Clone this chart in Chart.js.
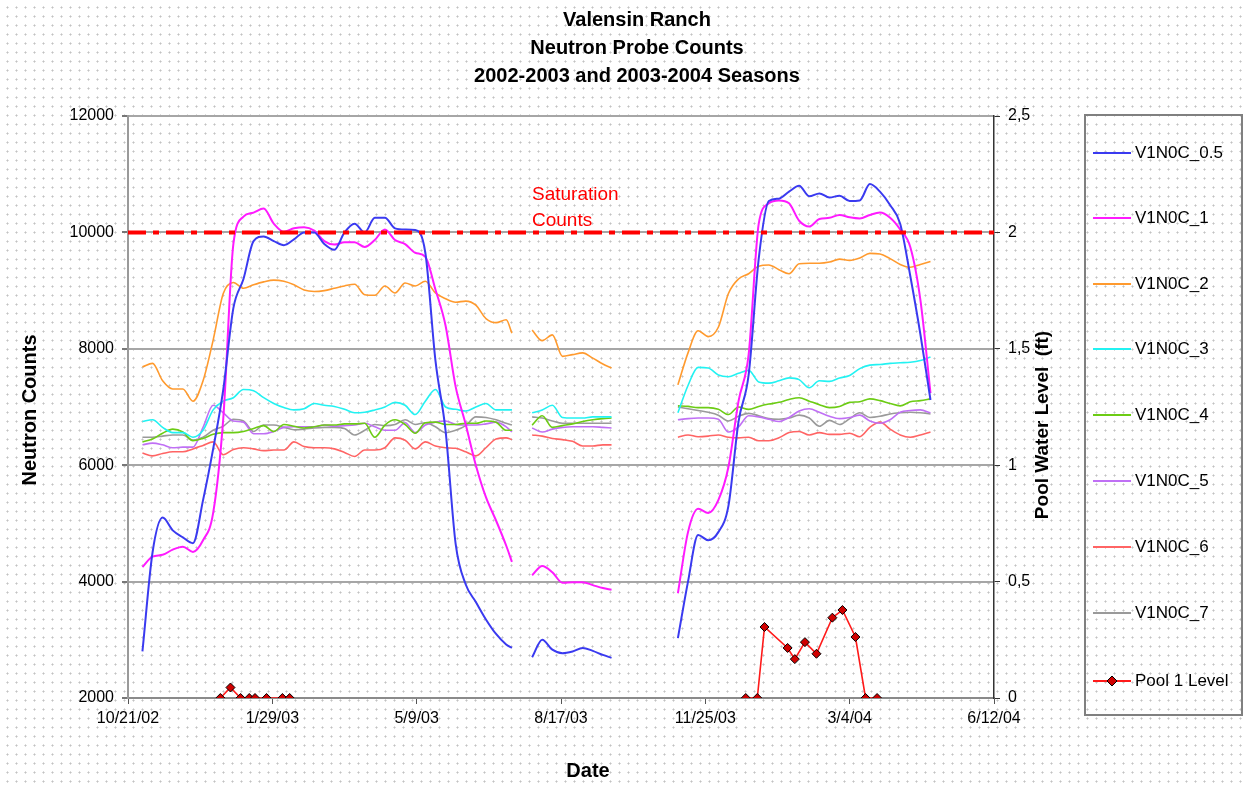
<!DOCTYPE html>
<html><head><meta charset="utf-8">
<script src="https://cdn.jsdelivr.net/npm/chart.js@4.4.0/dist/chart.umd.min.js"></script>
<style>
html,body{margin:0;padding:0;background:#fff;}
body{width:1248px;height:785px;overflow:hidden;background-image:radial-gradient(circle,#c2c2c2 0.8px,transparent 1.3px);background-size:9px 9px;background-position:3px 3px;}
canvas{display:block;}
</style></head><body>
<canvas id="c" width="1248" height="785"></canvas>
<script>
// ---------- data ----------
const xTickLabels = ['10/21/02','1/29/03','5/9/03','8/17/03','11/25/03','3/4/04','6/12/04'];
// days since 10/21/02 (null entries break the lines between measurement periods)
const days = [10,17,24,31,38,45,52,59,66,73,80,87,94,101,108,115,122,129,136,143,150,157,164,171,178,185,192,199,206,213,220,227,234,241,248,255,262,266,
  273,
  280,287,294,301,308,315,322,329,335,
  358,
  381,388,395,402,409,416,423,430,437,444,451,458,465,472,479,486,493,500,507,514,521,528,535,542,549,556];

const v05 = [2800,4500,5100,4880,4760,4660,5400,6280,7300,8700,9200,9850,9930,9850,9780,9880,10000,10000,9800,9700,10000,10150,10000,10250,10250,10070,10050,10040,9650,7800,6600,4650,3950,3650,3350,3100,2920,2860,
  null,
  2700,3000,2830,2770,2800,2860,2810,2740,2690,
  null,
  3030,4000,4800,4710,4850,5300,6750,7550,9550,10540,10580,10700,10800,10620,10670,10600,10630,10540,10550,10830,10700,10470,10150,9250,8250,7120];

const v1 = [4250,4430,4460,4550,4600,4510,4710,5180,6800,9800,10270,10340,10410,10150,10010,10070,10090,10030,9850,9790,9830,9830,9750,9870,10050,9870,9800,9650,9580,9020,8400,7350,6700,6000,5450,5050,4620,4340,
  null,
  4110,4270,4160,3980,3990,3990,3940,3890,3860,
  null,
  3800,4850,5250,5180,5400,5970,7100,7900,10150,10500,10550,10500,10200,10100,10230,10250,10300,10260,10240,10300,10340,10250,10050,9750,8840,7240];

const v2 = [7690,7750,7450,7310,7310,7100,7450,8150,8950,9140,9040,9100,9150,9180,9160,9100,9010,8985,9000,9040,9080,9110,8930,8920,9080,8960,9130,9080,9160,8960,8860,8800,8820,8750,8520,8450,8500,8270,
  null,
  8320,8140,8240,7870,7900,7930,7840,7740,7670,
  null,
  7380,7930,8310,8210,8370,8950,9200,9290,9420,9440,9360,9290,9460,9470,9470,9490,9540,9520,9560,9640,9630,9550,9450,9400,9450,9500];

const v3 = [6750,6780,6650,6560,6560,6480,6600,6950,7100,7160,7300,7280,7160,7060,6990,6950,6970,7060,7030,7010,6960,6900,6910,6950,7000,7080,7030,6870,7100,7300,7000,6960,6930,7000,7060,6950,6950,6950,
  null,
  6900,6950,7030,6820,6810,6810,6830,6830,6830,
  null,
  6900,7370,7680,7670,7550,7520,7580,7630,7430,7410,7450,7500,7470,7330,7450,7440,7500,7540,7660,7720,7730,7750,7760,7770,7800,7860];

const v4 = [6400,6450,6550,6620,6570,6420,6460,6530,6560,6560,6580,6630,6680,6580,6700,6670,6640,6660,6690,6690,6710,6710,6720,6480,6690,6780,6700,6550,6730,6740,6700,6700,6720,6720,6760,6740,6600,6600,
  null,
  6690,6850,6650,6680,6710,6750,6780,6800,6810,
  null,
  7020,7010,6990,6990,6960,6870,7000,6960,7010,7050,7080,7130,7160,7100,7040,6990,7010,7080,7090,7140,7110,7060,7020,7090,7110,7140];

const v5 = [6350,6380,6350,6300,6310,6310,6650,7030,6900,6760,6740,6540,6540,6580,6650,6660,6660,6660,6690,6670,6680,6690,6720,6660,6600,6600,6730,6560,6690,6740,6760,6700,6690,6690,6710,6740,6660,6570,
  null,
  6640,6570,6620,6650,6660,6660,6660,6650,6640,
  null,
  6780,6800,6810,6810,6790,6570,6660,6850,6830,6790,6750,6820,6930,6970,6910,6840,6800,6820,6860,6760,6720,6780,6910,6940,6950,6900];

const v6 = [6210,6160,6200,6230,6230,6280,6340,6400,6180,6270,6300,6280,6250,6260,6260,6400,6320,6300,6300,6280,6220,6150,6260,6260,6300,6470,6430,6280,6400,6330,6300,6290,6230,6160,6300,6450,6470,6440,
  null,
  6520,6500,6460,6440,6410,6330,6330,6350,6350,
  null,
  6480,6520,6490,6500,6520,6480,6470,6480,6420,6420,6470,6560,6580,6520,6560,6530,6530,6550,6490,6650,6740,6620,6520,6480,6520,6570];

const v7 = [6480,6480,6500,6520,6520,6430,6480,6600,6670,6790,6760,6580,6690,6690,6650,6610,6620,6640,6650,6650,6630,6520,6600,6700,6680,6700,6780,6700,6730,6660,6560,6600,6680,6830,6820,6780,6720,6690,
  null,
  6830,6810,6760,6720,6720,6720,6720,6720,6720,
  null,
  7000,6970,6940,6910,6860,6760,6840,6890,6850,6800,6790,6810,6860,6810,6670,6770,6700,6800,6900,6820,6840,6880,6900,6910,6900,6880];

const poolDays  = [64,71,78,84,88,96,107,112,270,428,436,441,457,462,469,477,488,495,504,511,519];
const poolLevel = [0,0.045,0,0,0,0,0,0,null,0,0,0.305,0.215,0.167,0.24,0.19,0.345,0.378,0.262,0,0];

const satDays = [0,600];
const satCounts = [10000,10000];

const seriesNames  = ['V1N0C_0.5','V1N0C_1','V1N0C_2','V1N0C_3','V1N0C_4','V1N0C_5','V1N0C_6','V1N0C_7'];
const seriesValues = [v05,v1,v2,v3,v4,v5,v6,v7];
const seriesColors = ['#3a3af0','#ff1aff','#ff9a2e','#22f2f2','#6ccc14','#c070f5','#ff6464','#9a9a9a'];
const seriesWidths = [2,2,1.6,1.6,1.6,1.6,1.6,1.6];

// ---------- chart ----------
Chart.defaults.font.family = '"Liberation Sans", Arial, sans-serif';
Chart.defaults.color = '#000';

const pts = (xs, ys) => xs.map((d,i)=>({x:d, y:ys[i]}));

const datasets = [];
datasets.push({label:'Pool 1 Level', data:pts(poolDays,poolLevel), yAxisID:'y1', borderColor:'#ff1a1a', borderWidth:1.6,
  pointStyle:'rectRot', pointRadius:4.5, pointBackgroundColor:'#d00000', pointBorderColor:'#000', pointBorderWidth:1, tension:0, spanGaps:false});
datasets.push({label:'Saturation', data:pts(satDays,satCounts), yAxisID:'y', borderColor:'#ff0000', borderWidth:4,
  borderDash:[18,7,6,7], pointRadius:0, tension:0});
seriesNames.forEach((n,i)=>{
  datasets.push({label:n, data:pts(days,seriesValues[i]), yAxisID:'y', borderColor:seriesColors[i], borderWidth:seriesWidths[i],
    pointRadius:0, cubicInterpolationMode:'monotone', spanGaps:false});
});

const legendItems = seriesNames.map((n,i)=>({text:n, color:seriesColors[i], marker:false})).concat([{text:'Pool 1 Level', color:'#ff1a1a', marker:true}]);

const decor = {
  id:'decor',
  afterDraw(chart){
    const ctx = chart.ctx;
    ctx.save();
    ctx.fillStyle = '#000';
    ctx.textAlign = 'center';
    ctx.textBaseline = 'middle';
    ctx.font = 'bold 20px "Liberation Sans", Arial, sans-serif';
    ctx.fillText('Valensin Ranch', 637, 20);
    ctx.fillText('Neutron Probe Counts', 637, 48);
    ctx.fillText('2002-2003 and 2003-2004 Seasons', 637, 76);
    // axis titles
    ctx.fillText('Date', 588, 771);
    ctx.save(); ctx.translate(30, 410); ctx.rotate(-Math.PI/2);
    ctx.fillText('Neutron Counts', 0, 0); ctx.restore();
    ctx.save(); ctx.translate(1043, 425); ctx.rotate(-Math.PI/2);
    ctx.font = 'bold 19px "Liberation Sans", Arial, sans-serif';
    ctx.fillText('Pool Water Level  (ft)', 0, 0); ctx.restore();
    // saturation annotation
    ctx.fillStyle = '#ff0000';
    ctx.textAlign = 'left';
    ctx.font = '19px "Liberation Sans", Arial, sans-serif';
    ctx.fillText('Saturation', 532, 195);
    ctx.fillText('Counts', 532, 221);
    // legend
    ctx.strokeStyle = '#808080'; ctx.lineWidth = 2;
    ctx.strokeRect(1085, 115, 157, 600);
    const ys = [153,218,284,349,415,481,547,613,681];
    ctx.font = '17px "Liberation Sans", Arial, sans-serif';
    legendItems.forEach((it,i)=>{
      const y = ys[i];
      ctx.strokeStyle = it.color; ctx.lineWidth = 2;
      ctx.beginPath(); ctx.moveTo(1093, y); ctx.lineTo(1131, y); ctx.stroke();
      if (it.marker){
        ctx.fillStyle = '#d00000'; ctx.strokeStyle = '#000'; ctx.lineWidth = 1;
        ctx.beginPath(); ctx.moveTo(1112, y-5); ctx.lineTo(1117, y); ctx.lineTo(1112, y+5); ctx.lineTo(1107, y); ctx.closePath();
        ctx.fill(); ctx.stroke();
      }
      ctx.fillStyle = '#000';
      ctx.fillText(it.text, 1135, y);
    });
    ctx.restore();
  }
};

new Chart(document.getElementById('c'), {
  type:'line',
  data:{datasets},
  options:{
    responsive:false, animation:false, devicePixelRatio:1,
    layout:{padding:{left:0, top:116, right:204, bottom:0}},
    plugins:{legend:{display:false}, tooltip:{enabled:false}, title:{display:false}},
    scales:{
      x:{type:'linear', min:0, max:600,
        afterFit(s){ s.height = 87; },
        ticks:{stepSize:100, autoSkip:false, maxRotation:0, font:{size:16}, padding:5,
          callback:(v)=> (v % 100 === 0 ? xTickLabels[Math.round(v/100)] : '')},
        grid:{drawOnChartArea:false, drawTicks:true, tickLength:6, color:'#555'},
        border:{display:true, color:'#8a8a8a', width:2}},
      y:{position:'left', min:2000, max:12000,
        afterFit(s){ s.width = 128; },
        ticks:{stepSize:2000, font:{size:16}, padding:8, callback:(v)=> String(v)},
        grid:{color:'#a6a6a6', lineWidth:2, drawTicks:true, tickLength:6, tickColor:'#777'},
        border:{color:'#9a9a9a', width:2}},
      y1:{position:'right', min:0, max:2.5,
        afterFit(s){ s.width = 50; },
        ticks:{stepSize:0.5, font:{size:16}, padding:8, callback:(v)=> String(v).replace('.', ',')},
        grid:{drawOnChartArea:false, drawTicks:true, tickLength:6, color:'#333'},
        border:{color:'#333', width:1.5}}
    }
  },
  plugins:[decor]
});
</script>
</body></html>
